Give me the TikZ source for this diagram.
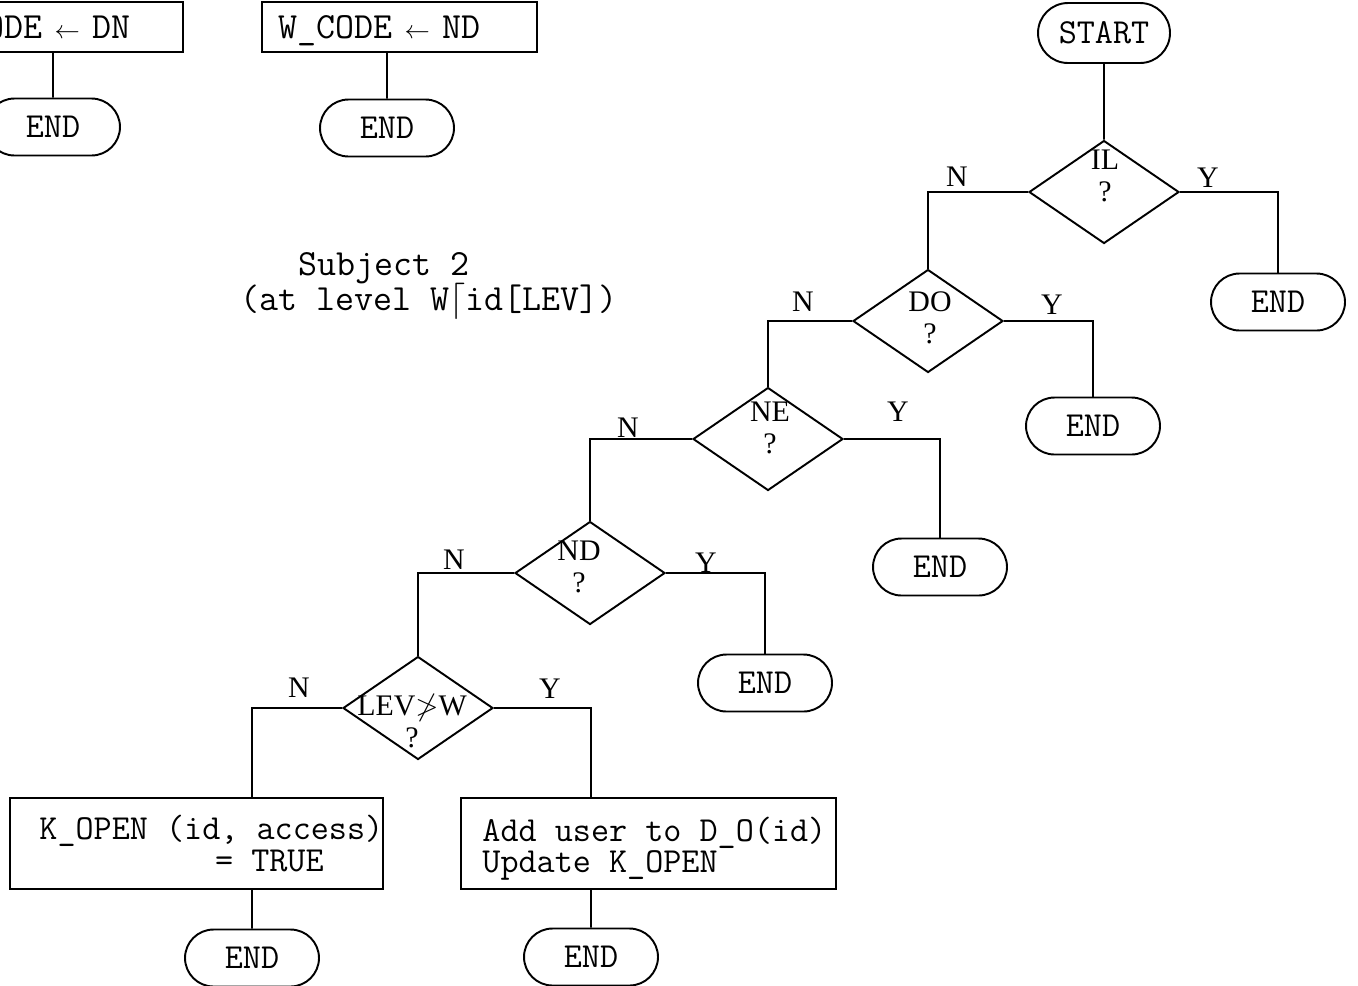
\documentclass[tikz,border=0pt]{standalone}
\usepackage{fontspec}
\setmainfont{Liberation Serif}
\usetikzlibrary{positioning, shapes.geometric, shapes.misc}

\newcommand{\codearrow}{\makebox[0.7em]{$\scriptstyle\leftarrow$}}

\begin{document}
\begin{tikzpicture}[
    x=0.02cm, y=-0.02cm,
    wire/.style={line width=1.1pt},
    terminal/.style={
      rounded rectangle, draw, line width=1.1pt,
      minimum width=2.68cm, minimum height=1.14cm, inner sep=0pt,
      font=\fontsize{20}{18}\selectfont\ttfamily
    },
    decision/.style={
      diamond, draw, line width=1.1pt,
      minimum width=3cm, minimum height=2.06cm, inner sep=0pt
    },
    process/.style={
      rectangle, draw, line width=1.1pt,
      minimum height=1.82cm, inner sep=0pt
    },
    ptext/.style={align=left, inner sep=0pt, font=\fontsize{20}{18}\selectfont\ttfamily},
    assign/.style={
      rectangle, draw, line width=1.1pt,
      minimum height=1cm, inner xsep=0.32cm, inner ysep=0pt, text depth=0pt,
      align=left, font=\fontsize{21}{18}\selectfont\ttfamily
    },
    dtext/.style={align=center, inner sep=0pt, font=\fontsize{17}{18}\selectfont},
    yn/.style={inner sep=0pt, font=\fontsize{17}{18}\selectfont},
    note/.style={align=left, inner sep=0pt, font=\fontsize{21}{18}\selectfont\ttfamily}
  ]
  \useasboundingbox (0,0) rectangle (1358,985);
  \clip (0,0) rectangle (1358,985);

  % Left over from the previous subject
  \node[assign, text width=4.78cm] (dncode) at (47.5,27) {W\_CODE \codearrow{} DN};
  \node[terminal] (enddn) at (53,127) {END};
  \node[assign, text width=4.86cm] (ndcode) at (399.5,27) {W\_CODE \codearrow{} ND};
  \node[terminal] (endnd2) at (387,128) {END};

  \node[note, anchor=west] (subj) at (240,283)
    {\hspace*{33pt}Subject 2\\(at level W\smash{$\lceil$}id[LEV])};

  % Decision chain
  \node[terminal, minimum width=2.64cm, minimum height=1.2cm] (start) at (1104,33) {START};
  \node[decision] (il) at (1104,192) {};
  \node[decision] (do) at (928,321) {};
  \node[decision] (ne) at (768,439) {};
  \node[decision] (nd) at (590,573) {};
  \node[decision] (lev) at (418,708) {};

  \node[dtext] at (1105,176) {IL\\?};
  \node[dtext] at (930,318) {DO\\?};
  \node[dtext] at (770,428) {NE\\?};
  \node[dtext] at (579,567) {ND\\?};
  \node[dtext] at (412,721) {LEV$\not>$W\\?};

  % Exits
  \node[terminal] (endil) at (1278,302) {END};
  \node[terminal] (enddo) at (1093,426) {END};
  \node[terminal] (endne) at (940,567) {END};
  \node[terminal] (endnd) at (765,683) {END};

  \node[process, minimum width=7.46cm] (kopen) at (196.5,843.5) {};
  \node[ptext, right=0.6cm of kopen.west]
    {K\_OPEN (id, access)\\\hspace*{100pt}= TRUE};
  \node[process, minimum width=7.5cm] (adduser) at (648.5,843.5) {};
  \node[ptext, right=0.44cm of adduser.west, yshift=-0.1cm]
    {Add user to D\_O(id)\\Update K\_OPEN};
  \node[terminal] (endk) at (252,958) {END};
  \node[terminal] (endadd) at (591,957) {END};

  % Connectors
  \draw[wire] (dncode.south -| enddn) -- (enddn);
  \draw[wire] (ndcode.south -| endnd2) -- (endnd2);
  \draw[wire] (start) -- (il);
  \draw[wire] (il.east) -| (endil);
  \draw[wire] (il.west) -| (do);
  \draw[wire] (do.east) -| (enddo);
  \draw[wire] (do.west) -| (ne);
  \draw[wire] (ne.east) -| (endne);
  \draw[wire] (ne.west) -| (nd);
  \draw[wire] (nd.east) -| (endnd);
  \draw[wire] (nd.west) -| (lev);
  \draw[wire] (lev.west) -| (kopen.north -| endk);
  \draw[wire] (lev.east) -| (adduser.north -| endadd);
  \draw[wire] (kopen.south -| endk) -- (endk);
  \draw[wire] (adduser.south -| endadd) -- (endadd);

  % Branch labels
  \node[yn] at (957,177) {N};
  \node[yn] at (1208,178) {Y};
  \node[yn] at (803,302) {N};
  \node[yn] at (1052,305) {Y};
  \node[yn] at (628,428) {N};
  \node[yn] at (898,412) {Y};
  \node[yn] at (454,560) {N};
  \node[yn] at (706,563) {Y};
  \node[yn] at (299,688) {N};
  \node[yn] at (550,689) {Y};
\end{tikzpicture}
\end{document}
